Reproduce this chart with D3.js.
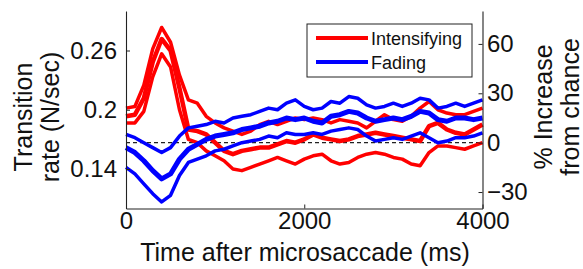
<!DOCTYPE html>
<html><head><meta charset="utf-8">
<script src="https://cdn.jsdelivr.net/npm/d3@7"></script>
<style>
html,body{margin:0;padding:0;background:#fff;}
svg text{font-family:"Liberation Sans",Arial,Helvetica,sans-serif;fill:#111;}
</style></head>
<body><svg id="c" width="583" height="269"></svg>
<script>
// time after microsaccade (ms)
const times = [0,100,200,300,400,500,600,700,800,900,1000,1100,1200,1300,1400,1500,1600,1700,1800,1900,2000,2100,2200,2300,2400,2500,2600,2700,2800,2900,3000,3100,3200,3300,3400,3500,3600,3700,3800,3900,4000];
// % increase from chance
const intensUpper = [21,22,35,57,70,61,41,26,24,16,12,9,7,5,7,11,13,11,13,15,14,15,14,12,14,13,12,9,13,17,14,13,16,21,25,20,18,17,17,19,21];
const intensMean  = [16,17,27,49,63,56,33,8,7,5,0,-5,-7,-5,-4,-3,-3,-1,1,0,2,5,3,2,1,2,4,5,6,5,4,3,2,1,10,12,8,6,5,8,11];
const intensLower = [12,12,19,40,54,46,20,2,0,-5,-8,-11,-16,-17,-15,-13,-11,-9,-11,-13,-10,-8,-7,-11,-13,-12,-9,-7,-6,-7,-9,-10,-13,-14,-6,-2,-2,-3,-4,-2,0];
const fadeUpper   = [5,3,0,-3,-6,-3,4,9,10,11,13,12,15,16,17,19,21,20,24,26,22,20,21,25,24,28,27,23,21,22,24,22,24,27,26,21,22,24,22,24,26];
const fadeMean    = [-3,-6,-11,-17,-22,-19,-10,-4,-1,2,4,5,6,8,9,10,12,13,15,14,15,13,12,16,17,19,18,15,13,14,15,14,16,19,18,14,13,15,15,14,15];
const fadeLower   = [-15,-19,-25,-31,-36,-32,-20,-12,-10,-8,-5,-4,-2,0,1,2,4,3,6,5,5,6,5,7,8,9,8,4,1,2,3,2,4,6,3,0,1,3,3,4,6];

const xTicks = [0,2000,4000];
const leftTicks = [0.14,0.2,0.26];
const rightTicks = [-30,0,30,60];
const legendLabels = ["Intensifying","Fading"];
const seriesColors = ["#ff0000","#0000ff"];

const svg = d3.select("#c");
const L = 126, R = 482.5, T = 11, B = 208.5;

const x = d3.scaleLinear().domain([0,4000]).range([L,R]);
const yL = d3.scaleLinear().domain([0.1,0.3]).range([B,T]);
const yR = d3.scaleLinear().domain([-40,80]).range([B,T]);

// dashed chance line
svg.append("line").attr("x1",L).attr("x2",R).attr("y1",yR(0)).attr("y2",yR(0))
  .attr("stroke","#222").attr("stroke-width",1.2).attr("stroke-dasharray","4,3");

const line = d3.line().x((d,i)=>x(times[i])).y(d=>yR(d));
const series = [
  {v:intensUpper,c:seriesColors[0],w:3.5},
  {v:intensLower,c:seriesColors[0],w:3.5},
  {v:intensMean,c:seriesColors[0],w:4.5},
  {v:fadeUpper,c:seriesColors[1],w:3.5},
  {v:fadeLower,c:seriesColors[1],w:3.5},
  {v:fadeMean,c:seriesColors[1],w:5}
];
svg.append("g").selectAll("path").data(series).join("path")
  .attr("d",d=>line(d.v)).attr("fill","none")
  .attr("stroke",d=>d.c).attr("stroke-width",d=>d.w)
  .attr("stroke-linejoin","round");

// axes
const fs = "24px";
const ax = svg.append("g").attr("transform",`translate(0,${B})`)
  .call(d3.axisBottom(x).tickValues(xTicks).tickSizeInner(-4).tickSizeOuter(0).tickPadding(3.5).tickFormat(d3.format("d")));
const ayl = svg.append("g").attr("transform",`translate(${L},0)`)
  .call(d3.axisLeft(yL).tickValues(leftTicks).tickSizeInner(-4).tickSizeOuter(0).tickPadding(9).tickFormat(d=>String(d)));
const ayr = svg.append("g").attr("transform",`translate(${R},0)`)
  .call(d3.axisRight(yR).tickValues(rightTicks).tickSizeInner(-4).tickSizeOuter(0).tickPadding(4.5).tickFormat(d3.format("d")));
[ax,ayl,ayr].forEach(g=>{
  g.select(".domain").attr("stroke","#222").attr("stroke-width",1.1);
  g.selectAll(".tick line").attr("stroke","#222");
  g.selectAll(".tick text").attr("font-size",fs).attr("fill","#111")
   .attr("font-family","'Liberation Sans',Arial,sans-serif");
});
ax.selectAll(".tick text").attr("dy","0.72em");

// axis titles
const ts = "25px";
svg.append("text").attr("x",305).attr("y",261).attr("text-anchor","middle")
  .attr("font-size",ts).text("Time after microsaccade (ms)");
const lt = svg.append("g").attr("transform","translate(0,117) rotate(-90)");
lt.append("text").attr("x",0).attr("y",32).attr("text-anchor","middle").attr("font-size",ts).text("Transition");
lt.append("text").attr("x",0).attr("y",59).attr("text-anchor","middle").attr("font-size",ts).text("rate (N/sec)");
const rt = svg.append("g").attr("transform","translate(0,107) rotate(-90)");
rt.append("text").attr("x",0).attr("y",552).attr("text-anchor","middle").attr("font-size",ts).text("% Increase");
rt.append("text").attr("x",0).attr("y",579).attr("text-anchor","middle").attr("font-size",ts).text("from chance");

// legend
const lg = svg.append("g");
lg.append("rect").attr("x",307).attr("y",24).attr("width",165).attr("height",53)
  .attr("fill","#fff").attr("stroke","#222").attr("stroke-width",1);
legendLabels.forEach((lab,i)=>{
  const yy = 38 + i*24;
  lg.append("line").attr("x1",316).attr("x2",368).attr("y1",yy).attr("y2",yy)
    .attr("stroke",seriesColors[i]).attr("stroke-width",4);
  lg.append("text").attr("x",371).attr("y",yy+6.5).attr("font-size","18px").text(lab);
});
</script></body></html>
